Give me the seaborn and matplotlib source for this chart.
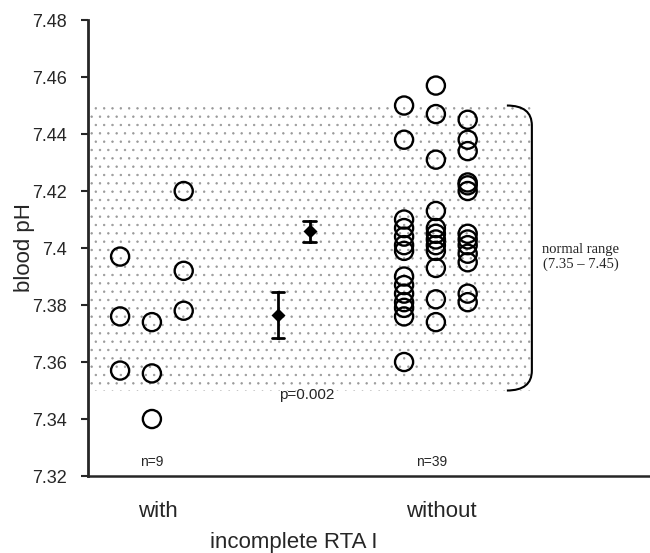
import numpy as np
import pandas as pd
import seaborn as sns
import matplotlib.pyplot as plt
from matplotlib.path import Path
from matplotlib.patches import PathPatch
from matplotlib import transforms

# blood pH per patient, one list per drawn column of circles
with_cols = [
    [7.397, 7.376, 7.357],
    [7.374, 7.356, 7.340],
    [7.420, 7.392, 7.378],
]
without_cols = [
    [7.450, 7.438, 7.410, 7.407, 7.404, 7.401, 7.399, 7.390, 7.387, 7.384,
     7.381, 7.379, 7.376, 7.360],
    [7.457, 7.447, 7.431, 7.413, 7.407, 7.405, 7.403, 7.401, 7.399, 7.393,
     7.382, 7.374],
    [7.445, 7.438, 7.434, 7.423, 7.422, 7.420, 7.405, 7.403, 7.401, 7.398,
     7.395, 7.384, 7.381],
]
groups = ["with", "without"]
normal_range = (7.35, 7.45)
p_text = "p=0.002"
y_ticks = [7.32, 7.34, 7.36, 7.38, 7.40, 7.42, 7.44, 7.46, 7.48]

# layout (x in units of group spacing)
group_pos = {"with": 0.0, "without": 1.0}
mean_pos = {"with": 0.444, "without": 0.556}
col_step = 0.112

rows = []
for g, cols in zip(groups, [with_cols, without_cols]):
    for i, col in enumerate(cols):
        for v in col:
            rows.append((g, i, v))
df = pd.DataFrame(rows, columns=["group", "column", "ph"])
df["x"] = df["group"].map(group_pos) + (df["column"] - 1) * col_step
df["mean_x"] = df["group"].map(mean_pos)

sns.set_style("ticks")
plt.rcParams["font.family"] = ["Liberation Sans", "DejaVu Sans"]
plt.rcParams["hatch.linewidth"] = 0.5

fig = plt.figure(figsize=(6.5, 5.53), dpi=100)
ax = fig.add_axes([0.1354, 0.1392, 0.8646, 0.8246])

x_left, x_right = -0.225, 1.754
br_x0, br_x1 = 1.25, 1.338

# dotted normal-range band
ax.fill_between([x_left, br_x1], normal_range[0], normal_range[1],
                facecolor="none", edgecolor="0.6", hatch="..",
                linewidth=0, zorder=0)

# individual patients
sns.scatterplot(data=df, x="x", y="ph", marker="o", s=170,
                facecolor="none", edgecolor="black", linewidth=1.7,
                ax=ax, zorder=3, legend=False)

# group means +/- SEM
sns.pointplot(data=df, x="mean_x", y="ph", native_scale=True, errorbar="se",
              color="black", marker="D", markersize=5, linestyle="none",
              capsize=0.4, err_kws={"linewidth": 2}, ax=ax, zorder=4)

# bracket for normal range
lo, hi = normal_range
r = 0.007
verts = [(br_x0, hi), (br_x1, hi), (br_x1, hi - r), (br_x1, lo + r),
         (br_x1, lo), (br_x0, lo)]
codes = [Path.MOVETO, Path.CURVE3, Path.CURVE3, Path.LINETO,
         Path.CURVE3, Path.CURVE3]
ax.add_patch(PathPatch(Path(verts, codes), facecolor="none",
                       edgecolor="black", linewidth=1.5, zorder=3))
ax.text(1.51, (lo + hi) / 2 - 0.003,
        f"normal range\n({lo:.2f} \u2013 {hi:.2f})", ha="center",
        va="center", family="Liberation Serif", fontsize=10.5,
        linespacing=1.15)

# annotations
for g, cols in zip(groups, [with_cols, without_cols]):
    n = sum(len(c) for c in cols)
    ax.text(group_pos[g] - 0.015 * (g == "without"), 7.325, f"n={n}",
            ha="center", va="center", fontsize=10)
ax.text(0.545, 7.3485, p_text, ha="center", va="center", fontsize=11)

ax.set_xlim(x_left, x_right)
ax.set_ylim(7.32, 7.48)
ax.set_yticks(y_ticks)
ax.set_yticklabels([f"{t:g}" for t in y_ticks], fontsize=13)
ax.set_xticks([group_pos[g] + 0.02 for g in groups])
ax.set_xticklabels(groups, fontsize=16)
ax.tick_params(axis="x", length=0, pad=18)
ax.tick_params(axis="y", direction="out", length=5, width=1.5, pad=10)
ax.set_ylabel("blood pH", fontsize=16, labelpad=-2)
ax.set_xlabel("incomplete RTA I", fontsize=16)
ax.xaxis.set_label_coords(
    0.5, -0.122,
    transform=transforms.blended_transform_factory(ax.transData, ax.transAxes))
ax.xaxis.label.set_verticalalignment("top")

sns.despine(ax=ax)
ax.spines["left"].set_linewidth(2)
ax.spines["bottom"].set_linewidth(1.8)

fig.savefig("out.png", dpi=100)
